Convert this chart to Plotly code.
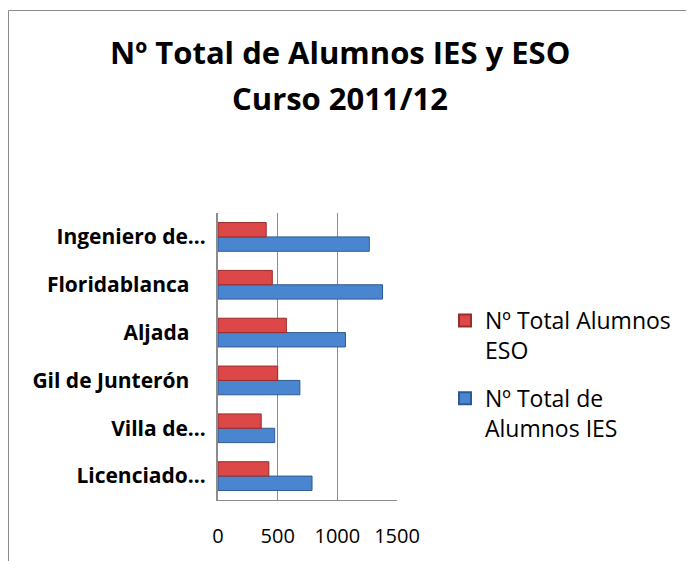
import plotly.graph_objects as go

categories = ["Licenciado…", "Villa de…", "Gil de Junterón", "Aljada", "Floridablanca", "Ingeniero de…"]
ies_values = [788, 475, 686, 1068, 1379, 1268]
eso_values = [426, 362, 500, 573, 455, 404]
x_ticks = [0, 500, 1000, 1500]
series_names = ["Nº Total de<br>Alumnos IES", "Nº Total Alumnos<br>ESO"]
title_lines = ["Nº Total de Alumnos IES y ESO", "Curso 2011/12"]

FONT = "Open Sans"
OFF = 8  # page body margin
W, H = 694 - OFF, 561 - OFF
# plot area in page pixels
PL, PR, PT, PB = 218, 397, 213, 500
L, R, T, B = PL - OFF, PR - OFF, PT - OFF, PB - OFF

tick_labels = [c if c.endswith("…") else c + "\u00a0" * 3 for c in categories]


def px_x(p):  # page pixel -> paper x
    return (p - PL) / (PR - PL)


def px_y(p):  # page pixel -> paper y
    return (PB - p) / (PB - PT)


fig = go.Figure()
fig.add_trace(go.Bar(
    y=categories, x=ies_values, orientation="h", name=series_names[0],
    legendgroup="ies", legendrank=2,
    marker=dict(color="#4A86D0", line=dict(color="#2E5A94", width=1)),
))
fig.add_trace(go.Bar(
    y=categories, x=eso_values, orientation="h", name=series_names[1],
    legendgroup="eso", legendrank=1,
    marker=dict(color="#DC4747", line=dict(color="#9C2B2B", width=1)),
))

annotations = [
    dict(text=title_lines[0], xref="paper", yref="paper", x=px_x(340), y=px_y(52),
         xanchor="center", yanchor="middle", showarrow=False,
         font=dict(family=FONT, size=31, color="#000", weight="bold")),
    dict(text=title_lines[1], xref="paper", yref="paper", x=px_x(340), y=px_y(98),
         xanchor="center", yanchor="middle", showarrow=False,
         font=dict(family=FONT, size=31, color="#000", weight="bold")),
]

fig.update_layout(
    width=W, height=H,
    margin=dict(l=L, r=W - R, t=T, b=H - B, pad=0, autoexpand=False),
    paper_bgcolor="white", plot_bgcolor="white",
    barmode="group", bargap=0.4, bargroupgap=0.0,
    showlegend=True,
    legend=dict(
        x=px_x(445), y=px_y(299), xanchor="left", yanchor="top",
        traceorder="grouped", font=dict(family=FONT, size=23, color="#000"),
        itemsizing="constant", tracegroupgap=15, itemwidth=30, valign="top",
        bgcolor="rgba(0,0,0,0)",
    ),
    annotations=annotations,
    xaxis=dict(
        range=[0, 1500], tickvals=x_ticks, ticktext=[str(v) for v in x_ticks],
        showgrid=True, gridcolor="#8C8C8C", gridwidth=1,
        showline=True, linecolor="#8C8C8C", linewidth=1, mirror=False,
        zeroline=False, ticks="", ticklabelstandoff=18,
        tickfont=dict(family=FONT, size=20, color="#000"),
        fixedrange=True, automargin=False,
    ),
    yaxis=dict(
        categoryorder="array", categoryarray=categories,
        tickvals=categories, ticktext=tick_labels,
        showline=True, linecolor="#8C8C8C", linewidth=2,
        showgrid=False, ticks="", ticklabelstandoff=6,
        tickfont=dict(family=FONT, size=21, color="#000", weight="bold"),
        fixedrange=True, automargin=False,
    ),
    shapes=[
        dict(type="rect", xref="paper", yref="paper",
             x0=px_x(8.5), x1=px_x(720), y0=px_y(600), y1=px_y(10.5),
             line=dict(color="#8C8C8C", width=1), fillcolor="rgba(0,0,0,0)", layer="below"),
    ],
)

fig.write_html("out.html")
